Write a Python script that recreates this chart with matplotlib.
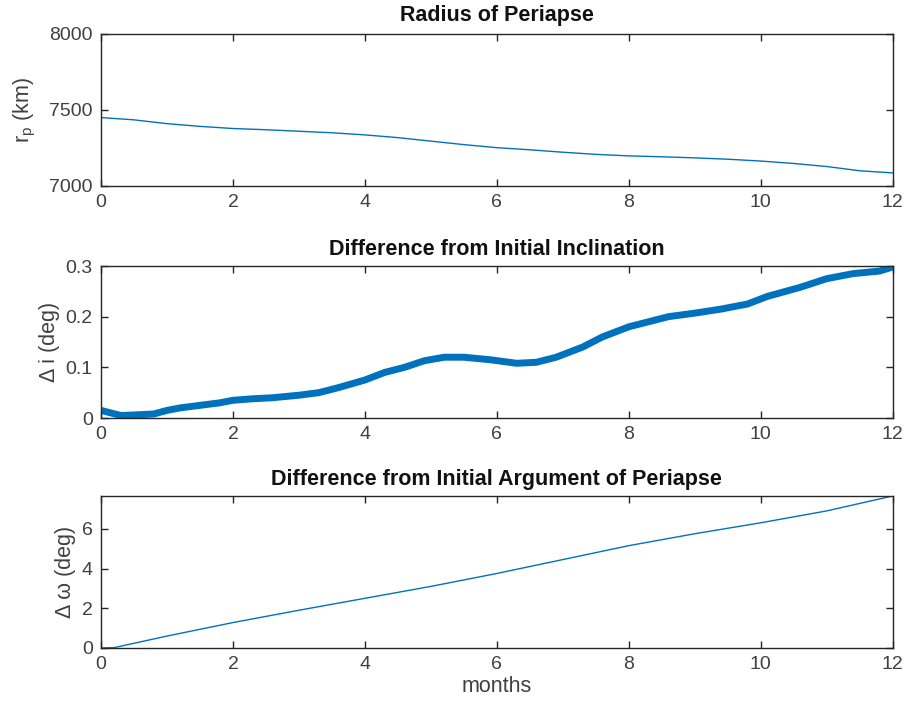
import matplotlib
matplotlib.use("Agg")
import matplotlib.pyplot as plt

plt.rcParams["font.family"] = ["Liberation Sans", "DejaVu Sans"]
plt.rcParams["mathtext.fontset"] = "custom"
plt.rcParams["mathtext.rm"] = "Liberation Sans"

# radius of periapse (km)
rp_t = [0, 0.5, 1, 1.5, 2, 2.5, 3, 3.5, 4, 4.5, 5, 5.5, 6, 6.5, 7, 7.5, 8, 8.5, 9, 9.5, 10, 10.5, 11, 11.5, 12]
rp_km = [7450, 7435, 7410, 7392, 7378, 7370, 7360, 7350, 7336, 7318, 7295, 7272, 7252, 7238, 7222, 7208, 7198, 7192, 7185, 7176, 7164, 7148, 7128, 7100, 7086]

# change in inclination (deg)
inc_t = [0, 0.15, 0.3, 0.5, 0.8, 1.0, 1.2, 1.5, 1.8, 2.0, 2.3, 2.6, 3.0, 3.3, 3.6, 4.0, 4.3, 4.6, 4.9, 5.2, 5.5, 5.9, 6.3, 6.6, 6.9, 7.3, 7.6, 8.0, 8.3, 8.6, 9.0, 9.4, 9.8, 10.1, 10.6, 11.0, 11.4, 11.8, 12.0]
inc_deg = [0.015, 0.01, 0.005, 0.006, 0.008, 0.015, 0.02, 0.025, 0.03, 0.035, 0.038, 0.04, 0.045, 0.05, 0.06, 0.075, 0.09, 0.1, 0.113, 0.12, 0.12, 0.115, 0.108, 0.11, 0.12, 0.14, 0.16, 0.18, 0.19, 0.2, 0.207, 0.215, 0.225, 0.24, 0.258, 0.275, 0.285, 0.29, 0.298]

# change in argument of periapse (deg)
w_t = [0, 0.2, 1, 2, 3, 4, 5, 6, 7, 8, 9, 10, 11, 12]
w_deg = [0, 0.02, 0.6, 1.28, 1.9, 2.5, 3.1, 3.75, 4.45, 5.15, 5.75, 6.3, 6.9, 7.65]

blue = "#0072BD"
grey = "#262626"
txt = "#404040"

fig = plt.figure(figsize=(9.1, 7.12), dpi=100)
ax1 = fig.add_axes([0.111, 0.7388, 0.870, 0.2135])
ax2 = fig.add_axes([0.111, 0.4129, 0.870, 0.2135])
ax3 = fig.add_axes([0.111, 0.0899, 0.870, 0.2135])

ax1.plot(rp_t, rp_km, color=blue, lw=1.0)
ax1.set_ylim(7000, 8000)
ax1.set_yticks([7000, 7500, 8000])
ax1.set_ylabel(r"r$_{\rm p}$ (km)", labelpad=8)
ax1.set_title("Radius of Periapse", pad=9)

ax2.plot(inc_t, inc_deg, color=blue, lw=5, solid_capstyle="butt")
ax2.set_ylim(0, 0.3)
ax2.set_yticks([0, 0.1, 0.2, 0.3])
ax2.set_yticklabels(["0", "0.1", "0.2", "0.3"])
ax2.set_ylabel("Δ i (deg)", labelpad=4)
ax2.set_title("Difference from Initial Inclination", pad=8)

ax3.plot(w_t, w_deg, color=blue, lw=1.0)
ax3.set_ylim(0, max(w_deg))
ax3.set_yticks([0, 2, 4, 6])
ax3.set_ylabel("Δ ω (deg)", labelpad=4)
ax3.set_xlabel("months", fontsize=15.5, color=txt, labelpad=2)
ax3.set_title("Difference from Initial Argument of Periapse", pad=8)

for ax in (ax1, ax2, ax3):
    ax.set_xlim(0, 12)
    ax.set_xticks([0, 2, 4, 6, 8, 10, 12])
    ax.tick_params(direction="in", length=5, width=1, top=True, right=True,
                   labelsize=14, colors=grey, labelcolor=txt, pad=6)
    for s in ax.spines.values():
        s.set_color(grey)
        s.set_linewidth(1)
    ax.title.set_fontsize(15.5)
    ax.title.set_fontweight("bold")
    ax.title.set_color("#111111")
    ax.yaxis.label.set_fontsize(15.5)
    ax.yaxis.label.set_color(txt)

fig.savefig("out.png", dpi=100)
